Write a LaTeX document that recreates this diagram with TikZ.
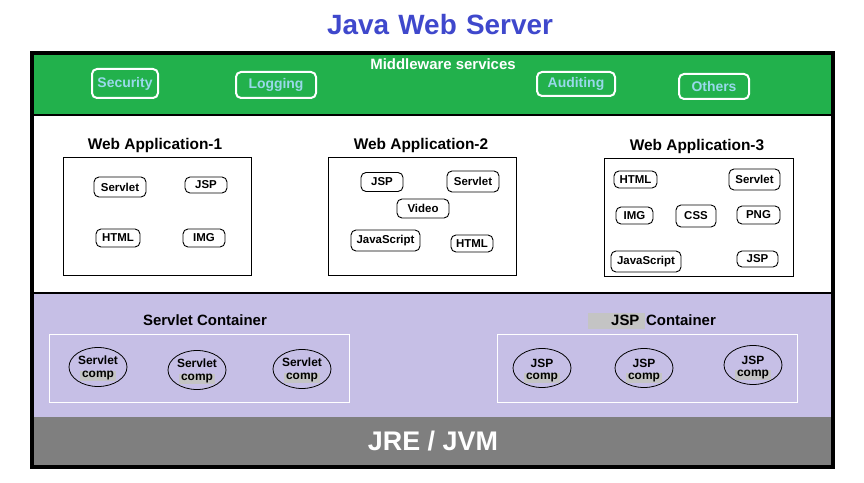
\documentclass[tikz,border=0pt]{standalone}
\usepackage{fontspec}
\setmainfont{Liberation Sans}
\usetikzlibrary{shapes.geometric}
\definecolor{paintgreen}{RGB}{34,177,76}
\definecolor{lav}{RGB}{198,191,230}
\definecolor{jregray}{RGB}{127,127,127}
\definecolor{titleblue}{RGB}{63,72,204}
\definecolor{tagblue}{RGB}{153,217,234}
\definecolor{hl}{RGB}{196,196,196}
\tikzset{
  fs/.style={font=\fontsize{#1}{#1}\selectfont\bfseries},
  mtag/.style={draw=white, line width=2bp, rounded corners=5bp, text=tagblue, fs=14, inner sep=0pt},
  item/.style={draw=black, line width=0.9bp, rounded corners=5bp, fs=11.5, inner sep=0pt},
  appbox/.style={draw=black, line width=1bp, inner sep=0pt},
  apptitle/.style={fs=15.5, inner sep=0pt},
  contbox/.style={draw=white, line width=1bp, inner sep=0pt},
  comp/.style={draw=black, ellipse, line width=0.8bp, inner sep=0pt, minimum width=58bp, minimum height=39bp},
  ctext/.style={fs=12, inner sep=0.5bp},
  chl/.style={ctext, fill=hl, inner xsep=2bp, inner ysep=1bp}
}
\begin{document}
\begin{tikzpicture}[x=1bp,y=-1bp]
\useasboundingbox (0,0) rectangle (864,483);
% frame and bands
\node[fill=black, minimum width=805bp, minimum height=418bp, inner sep=0pt, anchor=north west] (frame) at (30,51) {};
\fill[paintgreen] (34,55) rectangle (831,114.5);
\fill[white] (34,116) rectangle (831,292.5);
\fill[lav] (34,294) rectangle (831,417);
\fill[jregray] (34,417) rectangle (831,465);
% title
\node[fs=28, text=titleblue, inner sep=0pt] (title) at (440,25) {Java\,\,Web\,\,Server};
% middleware
\node[fs=15, text=white, inner sep=0pt] (mw) at (443,64) {Middleware services};
\node[mtag, minimum width=66bp, minimum height=29bp] (sec) at (125,83.5) {Security};
\node[mtag, minimum width=80bp, minimum height=26bp] (log) at (276,85) {Logging};
\node[mtag, minimum width=78bp, minimum height=24bp] (aud) at (576,84) {Auditing};
\node[mtag, minimum width=70bp, minimum height=25bp] (oth) at (714,86.5) {Others};
% web app 1
\node[apptitle] (t1) at (155,146) {Web Application-1};
\node[appbox, minimum width=188bp, minimum height=118bp, anchor=north west] (a1) at (63,157) {};
\node[item, minimum width=52bp, minimum height=20bp] (a1s) at (120,187) {Servlet};
\node[item, minimum width=42bp, minimum height=16bp] (a1j) at (206,185) {JSP};
\node[item, minimum width=44bp, minimum height=18bp] (a1h) at (118,238) {HTML};
\node[item, minimum width=42bp, minimum height=18bp] (a1i) at (204,238) {IMG};
% web app 2
\node[apptitle] (t2) at (421,146) {Web Application-2};
\node[appbox, minimum width=188bp, minimum height=118bp, anchor=north west] (a2) at (328,157) {};
\node[item, minimum width=42bp, minimum height=19bp] (a2j) at (382,182) {JSP};
\node[item, minimum width=52bp, minimum height=21bp] (a2s) at (473,181.5) {Servlet};
\node[item, minimum width=52bp, minimum height=19bp] (a2v) at (423,208.5) {Video};
\node[item, minimum width=69bp, minimum height=21bp] (a2js) at (385.5,240.5) {JavaScript};
\node[item, minimum width=42bp, minimum height=17bp] (a2h) at (472,243.5) {HTML};
% web app 3
\node[apptitle] (t3) at (697,147) {Web Application-3};
\node[appbox, minimum width=189bp, minimum height=118bp, anchor=north west] (a3) at (604,158) {};
\node[item, minimum width=43bp, minimum height=17bp] (a3h) at (635.5,179.5) {HTML};
\node[item, minimum width=51bp, minimum height=21bp] (a3s) at (754.5,179.5) {Servlet};
\node[item, minimum width=37bp, minimum height=17bp] (a3i) at (634.5,215.5) {IMG};
\node[item, minimum width=40bp, minimum height=22bp] (a3c) at (696,216) {CSS};
\node[item, minimum width=43bp, minimum height=18bp] (a3p) at (758.5,215) {PNG};
\node[item, minimum width=70bp, minimum height=21bp] (a3js) at (646,261.5) {JavaScript};
\node[item, minimum width=41bp, minimum height=16bp] (a3j) at (757.5,259) {JSP};
% servlet container
\node[fs=15, inner sep=0pt] (sct) at (205,320) {Servlet Container};
\node[contbox, minimum width=300bp, minimum height=68bp, anchor=north west] (sc) at (49,334) {};
\node[comp] (sc1) at (98,367) {};
\node[comp] (sc2) at (197,370) {};
\node[comp] (sc3) at (302,369) {};
\foreach \n in {sc1,sc2,sc3}{
  \node[ctext] (\n a) at ([yshift=7bp]\n.center) {Servlet};
  \node[chl] (\n b) at ([yshift=-9bp]\n.center) {comp};
}
% jsp container
\node[fill=hl, minimum width=57bp, minimum height=16bp, inner sep=0pt, anchor=north west] (jhl) at (588,313) {};
\node[fs=15, inner sep=0pt, anchor=west] (jct) at (611,320) {JSP\, Container};
\node[contbox, minimum width=300bp, minimum height=68bp, anchor=north west] (jc) at (497,334) {};
\node[comp] (jc1) at (542,368) {};
\node[comp] (jc2) at (644,368) {};
\node[comp] (jc3) at (753,365) {};
\foreach \n in {jc1,jc2,jc3}{
  \node[ctext] (\n a) at ([yshift=5bp]\n.center) {JSP};
  \node[chl] (\n b) at ([yshift=-10bp]\n.center) {comp};
}
% JRE
\node[fs=27, text=white, inner sep=0pt] (jre) at (433,441) {JRE / JVM};
\end{tikzpicture}
\end{document}
